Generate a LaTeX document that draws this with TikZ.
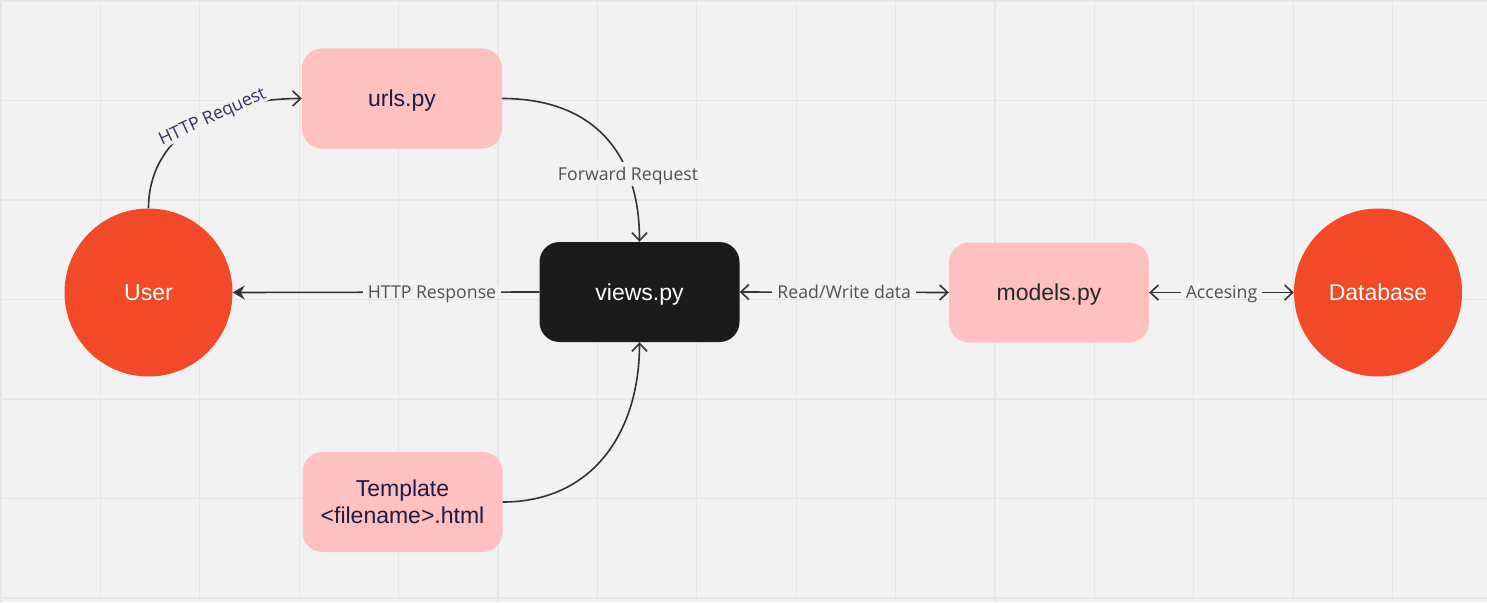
\documentclass[tikz,border=0pt]{standalone}
\usepackage{fontspec}
\setmainfont{Liberation Sans}
\newfontfamily\labelfont{Open Sans}
\usetikzlibrary{arrows.meta}
\definecolor{bg}{HTML}{F2F2F2}
\definecolor{gridc}{HTML}{E5E5E5}
\definecolor{pinkc}{HTML}{FFC0C0}
\definecolor{redc}{HTML}{F24A28}
\definecolor{blackc}{HTML}{1B1B1B}
\definecolor{navy}{HTML}{1E1A48}
\definecolor{linec}{HTML}{333333}
\definecolor{labelc}{HTML}{505050}
\definecolor{reqc}{HTML}{35315F}
\begin{document}
\begin{tikzpicture}[x=1pt,y=-1pt,
  pybox/.style={rectangle, rounded corners=20pt, minimum width=200pt, minimum height=100pt,
    inner sep=0pt, font=\fontsize{23}{27}\selectfont, align=center, fill=pinkc, text=navy,
    text depth=0pt},
  darkbox/.style={pybox, fill=blackc, text=white},
  actor/.style={circle, minimum size=168pt, inner sep=0pt, fill=redc, text=white,
    font=\fontsize{23}{27}\selectfont},
  conn/.style={draw=linec, line width=1.6pt},
  openhead/.style={-{Straight Barb[length=8pt,width=15pt]}},
  bothhead/.style={{Straight Barb[length=8pt,width=15pt]}-{Straight Barb[length=8pt,width=15pt]}},
  edgelabel/.style={fill=bg, font=\labelfont\fontsize{17.7}{21}\selectfont, text=labelc,
    inner xsep=5pt, inner ysep=0pt, text depth=0pt},
]
\useasboundingbox (0,0) rectangle (1487,602);
\fill[bg] (0,0) rectangle (1487,602);
\foreach \i in {0,...,14} \draw[gridc, line width=1.3pt] ({1+99.4*\i},0) -- ({1+99.4*\i},602);
\foreach \j in {0,...,6} \draw[gridc, line width=1.3pt] (0,{1+99.5*\j}) -- (1487,{1+99.5*\j});

\node[pybox] (urls) at (402,98.5) {urls.py};
\node[darkbox] (views) at (639.5,292) {views.py};
\node[pybox, text=black!85] (models) at (1049,292.5) {models.py};
\node[pybox] (tmpl) at (402.5,502) {Template\\<filename>.html};
\node[actor] (user) at (148.5,292.5) {User};
\node[actor] (db) at (1378,292.5) {Database};

\draw[conn, openhead] (user.north) .. controls +(0,-68) and +(-92,0) .. (urls.west)
  node[edgelabel, sloped, pos=0.62, text=reqc, inner xsep=5pt, inner ysep=3pt] {HTTP Request};
\draw[conn, openhead] (urls.east) .. controls +(90,0) and +(0,-90) .. (views.north)
  node[edgelabel, pos=0.715, inner ysep=5pt] {Forward Request};
\draw[conn, openhead] (tmpl.east) .. controls +(90,0) and +(0,90) .. (views.south);
\draw[conn, -{Stealth[length=12pt,width=14pt,inset=4pt]}] (views.west) -- (user.east)
  node[edgelabel, pos=0.35] {HTTP Response};
\draw[conn, bothhead] (views.east) -- (models.west)
  node[edgelabel, pos=0.5] {Read/Write data};
\draw[conn, bothhead] (models.east) -- (db.west)
  node[edgelabel, pos=0.5] {Accesing};
\end{tikzpicture}
\end{document}
